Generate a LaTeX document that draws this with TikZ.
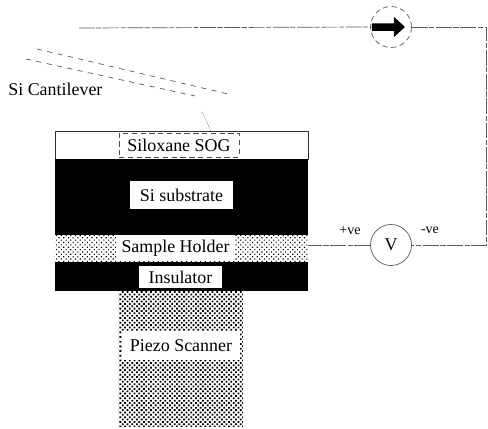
\documentclass[tikz,border=0pt]{standalone}
\usepackage{fontspec}
\setmainfont{Liberation Serif}
\usetikzlibrary{patterns.meta}
\tikzset{
	layer/.style={inner sep=0pt, minimum width=253*0.02cm, minimum height=#1*0.02cm},
	label/.style={fill=white, inner sep=0pt, minimum height=#1*0.02cm},
	wire/.style={line width=0.4pt, black!65, dash pattern=on 9pt off 0.8pt on 3pt off 1pt},
	meter/.style={circle, draw, black!65, text=black, line width=0.4pt, inner sep=0pt, minimum size=41*0.02cm},
	dotsa/.style={pattern={Dots[radius=0.46pt,distance=1.9pt,angle=45]}},
	dotsb/.style={pattern={Dots[radius=0.72pt,distance=1.9pt,angle=45]}}
}
\begin{document}
\begin{tikzpicture}[x=0.02cm, y=-0.02cm, >=stealth, font=\fontsize{10.2}{12}\selectfont, line join=round]
	\useasboundingbox (0,0) rectangle (488,429);
	% stack of layers
	\node[layer=28, draw=black!80, line width=0.4pt] (sog) at (181.5,145) {};
	\node[layer=76, fill=black] (substrate) at (181.5,197) {};
	\node[layer=27, dotsa] (holder) at (181.5,248.5) {};
	\node[layer=29, fill=black] (insulator) at (181.5,276.5) {};
	\node[minimum width=124*0.02cm, minimum height=136*0.02cm, inner sep=0pt, dotsb] (piezo) at (181,359) {};
	% labels
	\node[label=24, minimum width=120*0.02cm, draw=black!70, densely dashed, line width=0.4pt] (sogtext) at (179,145) {Siloxane SOG};
	\node[label=28, minimum width=103*0.02cm] (subtext) at (181.5,195) {Si substrate};
	\node[label=26, minimum width=119*0.02cm] (holdertext) at (175.5,248) {Sample Holder};
	\node[label=22, minimum width=83*0.02cm] (instext) at (180.5,277) {Insulator};
	\node[label=29, minimum width=118*0.02cm] (piezotext) at (181,345.5) {Piezo Scanner};
	% cantilever
	\coordinate (cana) at (37,49);
	\coordinate (canb) at (228,94);
	\coordinate (canc) at (26,59);
	\coordinate (cand) at (195,96);
	\coordinate (tipa) at (202,112);
	\coordinate (tipb) at (211,131);
	\draw[wire, dashed] (cana)--(canb);
	\draw[wire, dashed] (canc)--(cand);
	\draw[wire, densely dotted] (tipa)--(tipb);
	\node[anchor=west, inner sep=0pt] (cantext) at (8,89) {Si Cantilever};
	% circuit
	\node[meter, densely dashed] (amp) at (391,27) {};
	\node[meter] (volt) at (391,245) {V};
	\coordinate (start) at (79,28);
	\coordinate (corner) at (486,27);
	\draw[wire] (start)--(amp.west);
	\draw[wire] (amp.east)--(corner)--(corner|-volt)--(volt.east);
	\draw[wire] (volt.west)--(holder.east|-volt);
	\fill (372,23.5)--(394,23.5)--(394,17)--(405,27)--(394,37)--(394,31)--(372,31)--cycle;
	\node[font=\fontsize{8}{10}\selectfont] (plus) at (350,231) {+ve};
	\node[font=\fontsize{8}{10}\selectfont] (minus) at (430,230) {-ve};
\end{tikzpicture}
\end{document}
